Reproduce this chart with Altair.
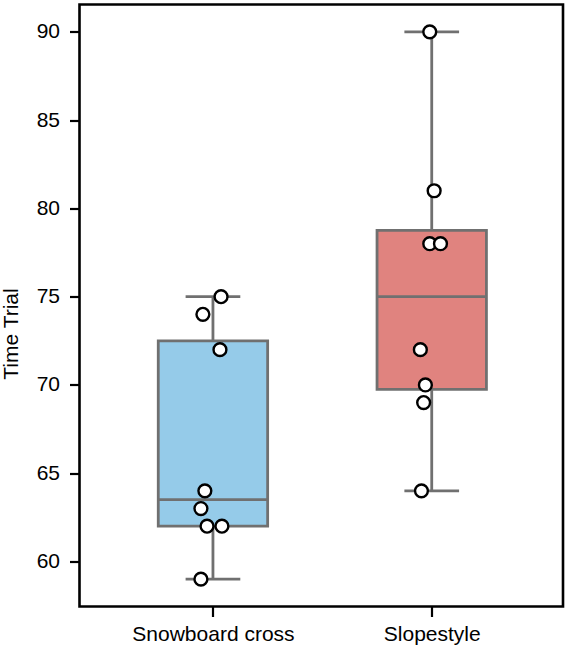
import json
import altair as alt
import pandas as pd

# ---- data ----
categories = ["Snowboard cross", "Slopestyle"]
snowboard_cross = [75, 74, 72, 64, 63, 62, 62, 59]
slopestyle = [90, 81, 78, 78, 72, 70, 69, 64]
# horizontal strip-plot jitter (in category units)
snowboard_jitter = [0.037, -0.046, 0.032, -0.037, -0.055, -0.027, 0.041, -0.055]
slopestyle_jitter = [-0.009, 0.011, -0.009, 0.040, -0.052, -0.029, -0.037, -0.047]
box_colors = ["#95CBE9", "#E0837F"]
y_ticks = [60, 65, 70, 75, 80, 85, 90]

rows = []
for i, (cat, vals, jit) in enumerate(zip(categories, [snowboard_cross, slopestyle],
                                         [snowboard_jitter, slopestyle_jitter])):
    for v, j in zip(vals, jit):
        rows.append({"cat": cat, "pos": i, "value": v, "jitter": j})
df = pd.DataFrame(rows)

GRAY = "#707070"
SW = 2.8

xscale = alt.Scale(domain=[-0.61, 1.6], nice=False, zero=False)
yscale = alt.Scale(domain=[57.45, 91.55], nice=False, zero=False)
label_expr = json.dumps(categories) + "[datum.value]"
xaxis = alt.Axis(values=[0, 1], labelExpr=label_expr, title=None, grid=False)
yaxis = alt.Axis(values=y_ticks, title="Time Trial", grid=False)

base = alt.Chart(df)

stats = (
    base.transform_joinaggregate(
        q1="q1(value)", q3="q3(value)", med="median(value)", groupby=["cat", "pos"]
    )
    .transform_calculate(
        lo="datum.q1 - 1.5 * (datum.q3 - datum.q1)",
        hi="datum.q3 + 1.5 * (datum.q3 - datum.q1)",
    )
    .transform_filter("datum.value >= datum.lo && datum.value <= datum.hi")
    .transform_aggregate(
        q1="min(q1)", q3="min(q3)", med="min(med)",
        wmin="min(value)", wmax="max(value)", groupby=["cat", "pos"],
    )
    .transform_calculate(
        bl="datum.pos - 0.25", br="datum.pos + 0.25",
        cl="datum.pos - 0.125", cr="datum.pos + 0.125",
    )
)

whisker = stats.mark_rule(color=GRAY, strokeWidth=SW).encode(
    x=alt.X("pos:Q", scale=xscale, axis=xaxis),
    y=alt.Y("wmin:Q", scale=yscale, axis=yaxis),
    y2="wmax:Q",
)
cap_lo = stats.mark_rule(color=GRAY, strokeWidth=SW).encode(
    x=alt.X("cl:Q", scale=xscale, axis=xaxis), x2="cr:Q",
    y=alt.Y("wmin:Q", scale=yscale, axis=yaxis),
)
cap_hi = stats.mark_rule(color=GRAY, strokeWidth=SW).encode(
    x=alt.X("cl:Q", scale=xscale, axis=xaxis), x2="cr:Q",
    y=alt.Y("wmax:Q", scale=yscale, axis=yaxis),
)
box = stats.mark_rect(stroke=GRAY, strokeWidth=SW, opacity=1).encode(
    x=alt.X("bl:Q", scale=xscale, axis=xaxis), x2="br:Q",
    y=alt.Y("q1:Q", scale=yscale, axis=yaxis), y2="q3:Q",
    fill=alt.Fill("cat:N", scale=alt.Scale(domain=categories, range=box_colors), legend=None),
)
median = stats.mark_rule(color=GRAY, strokeWidth=SW).encode(
    x=alt.X("bl:Q", scale=xscale, axis=xaxis), x2="br:Q",
    y=alt.Y("med:Q", scale=yscale, axis=yaxis),
)
points = (
    base.transform_calculate(xj="datum.pos + datum.jitter")
    .mark_point(shape="circle", filled=True, fill="white", stroke="black",
                strokeWidth=2.4, size=165, opacity=1)
    .encode(
        x=alt.X("xj:Q", scale=xscale, axis=xaxis),
        y=alt.Y("value:Q", scale=yscale, axis=yaxis),
    )
)

chart = (
    alt.layer(whisker, cap_lo, cap_hi, box, median, points)
    .properties(
        width=483.5, height=602,
        autosize=alt.AutoSizeParams(type="none"),
        padding={"left": 79.5, "top": 4.5, "right": 6, "bottom": 46.5},
    )
    .configure_view(stroke="black", strokeWidth=2.6)
    .configure_axis(
        domain=False,
        ticks=True, tickColor="black", tickWidth=2.2, tickSize=10,
        labelFont="Liberation Sans", labelFontSize=21, labelColor="black",
        titleFont="Liberation Sans", titleFontSize=21, titleFontWeight="normal",
        titleColor="black",
    )
    .configure_axisY(labelPadding=10, titleX=-62, titleY=329, titleAngle=270,
                     titleAlign="center", titleBaseline="alphabetic")
    .configure_axisX(labelPadding=7)
)

chart.save("out.html", embed_options={"renderer": "svg", "actions": False})
